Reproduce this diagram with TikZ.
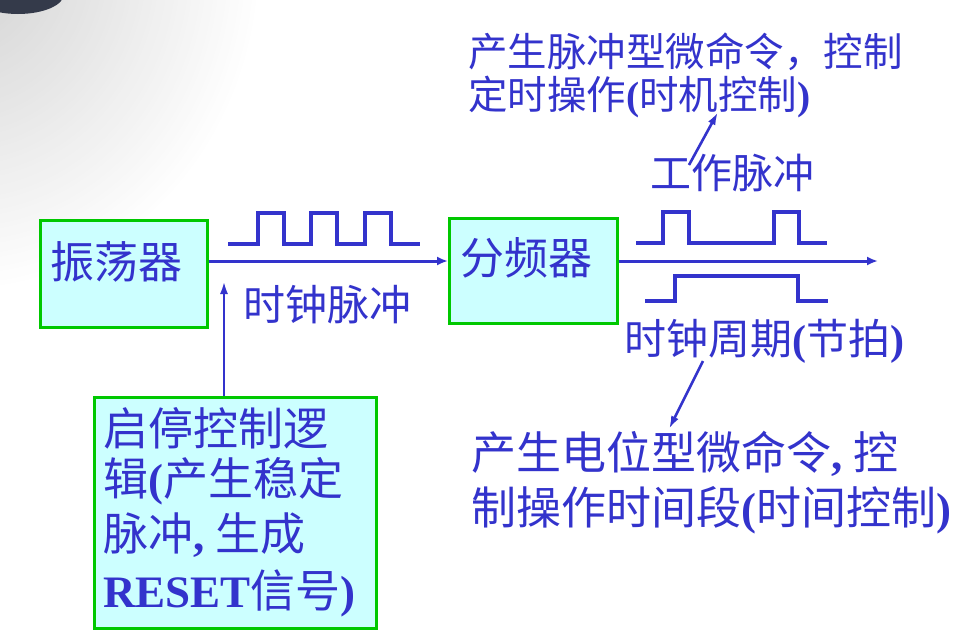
\documentclass[tikz,border=0pt]{standalone}
\usepackage{fontspec}
\setmainfont{Noto Sans CJK SC}
\newfontfamily\lat{Liberation Serif}
\usetikzlibrary{arrows.meta}
\definecolor{txtblue}{RGB}{51,51,204}
\definecolor{lnblue}{RGB}{51,51,204}
\definecolor{boxfill}{RGB}{204,255,255}
\definecolor{boxline}{RGB}{0,200,0}
\definecolor{darkdeco}{RGB}{52,58,74}
\newcommand{\lb}[1]{{\lat\bfseries #1}}
\begin{document}
\begin{tikzpicture}[x=1pt,y=-1pt,
  blockbox/.style={draw=boxline,fill=boxfill,line width=2.6pt,inner sep=0pt,anchor=north west},
  txt/.style={text=txtblue,inner sep=0pt,anchor=west},
  wave/.style={draw=lnblue,line width=4pt,line join=miter},
  mainline/.style={draw=lnblue,line width=3pt,-{Latex[length=11pt,width=9pt]}},
  pointer/.style={draw=lnblue,line width=2.6pt,-{Latex[length=13pt,width=8pt]}}]
\useasboundingbox (0,0) rectangle (957,638);
\fill[white] (0,0) rectangle (957,638);
% background decoration
\shade[inner color=gray!55,outer color=white] (-40,-40) ellipse (300 and 330);
\fill[white,opacity=0.35] (0,0) rectangle (957,638);
\fill[darkdeco] (18,-6) ellipse (46 and 20);
% blocks
\node[blockbox,minimum width=167pt,minimum height=107pt] (osc) at (39,219) {};
\node[blockbox,minimum width=168pt,minimum height=105pt] (fp) at (448,217) {};
\node[blockbox,minimum width=282pt,minimum height=231pt] (ctl) at (93,396) {};
\node[txt,font=\fontsize{44}{44}\selectfont] (osct) at (50,262) {振荡器};
\node[txt,font=\fontsize{44}{44}\selectfont] (fpt) at (460,258) {分频器};
\node[txt,font=\fontsize{45}{45}\selectfont] (c1) at (103,428) {启停控制逻};
\node[txt,font=\fontsize{45}{45}\selectfont] (c2) at (103,481) {辑\lb{(}产生稳定};
\node[txt,font=\fontsize{45}{45}\selectfont] (c3) at (103,535) {脉冲\lb{, }生成};
\node[txt,font=\fontsize{45}{45}\selectfont] (c4) at (103,593) {\lb{RESET}信号\lb{)}};
% labels
\node[txt,font=\fontsize{42}{42}\selectfont] (clk) at (243,305) {时钟脉冲};
\node[txt,font=\fontsize{41}{41}\selectfont] (work) at (650,173) {工作脉冲};
\node[txt,font=\fontsize{42}{42}\selectfont] (per) at (624,341) {时钟周期\lb{(}节拍\lb{)}};
\node[txt,font=\fontsize{39.5}{39.5}\selectfont] (top1) at (468,52) {产生脉冲型微命令，控制};
\node[txt,font=\fontsize{39.5}{39.5}\selectfont] (top2) at (468,97) {定时操作\lb{(}时机控制\lb{)}};
\node[txt,font=\fontsize{45}{45}\selectfont] (bot1) at (471,454) {产生电位型微命令\lb{, }控};
\node[txt,font=\fontsize{45}{45}\selectfont] (bot2) at (471,510) {制操作时间段\lb{(}时间控制\lb{)}};
% connectors
\coordinate (axis) at (0,261);
\coordinate (endp) at (878,261);
\draw[mainline] (osc.east |- axis) -- (fp.west |- axis);
\draw[mainline] (fp.east |- axis) -- (endp);
\coordinate (ctltop) at (224,396);
\coordinate (ctlarr) at (224,281);
\draw[pointer] (ctltop) -- (ctlarr);
\coordinate (wp1) at (689,165);
\coordinate (wp2) at (718,112);
\draw[pointer] (wp1) -- (wp2);
\coordinate (pp1) at (703,361);
\coordinate (pp2) at (669,429);
\draw[pointer] (pp1) -- (pp2);
% waveforms
\draw[wave] (228,244) -- (258,244) -- (258,213) -- (284,213) -- (284,244) -- (311,244) -- (311,213) -- (337,213) -- (337,244) -- (365,244) -- (365,213) -- (391,213) -- (391,244) -- (420,244);
\draw[wave] (636,243) -- (663,243) -- (663,212) -- (689,212) -- (689,243) -- (774,243) -- (774,212) -- (799,212) -- (799,243) -- (827,243);
\draw[wave] (645,301) -- (675,301) -- (675,276) -- (798,276) -- (798,301) -- (828,301);
\end{tikzpicture}
\end{document}
